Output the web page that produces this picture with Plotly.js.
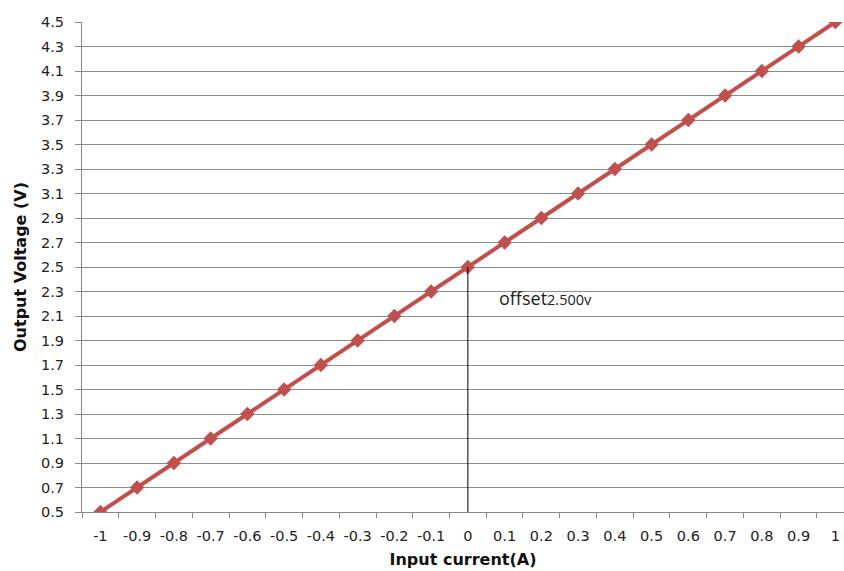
<!DOCTYPE html>
<html><head><meta charset="utf-8">
<script src="https://cdn.plot.ly/plotly-3.0.1.min.js"></script>
<style>html,body{margin:0;padding:0;background:#fff}</style>
</head><body>
<div id="chart" style="width:844px;height:571px"></div>
<script>
const currents = [-1,-0.9,-0.8,-0.7,-0.6,-0.5,-0.4,-0.3,-0.2,-0.1,0,0.1,0.2,0.3,0.4,0.5,0.6,0.7,0.8,0.9,1];
const voltages = [0.5,0.7,0.9,1.1,1.3,1.5,1.7,1.9,2.1,2.3,2.5,2.7,2.9,3.1,3.3,3.5,3.7,3.9,4.1,4.3,4.5];
const yTicks = [0.5,0.7,0.9,1.1,1.3,1.5,1.7,1.9,2.1,2.3,2.5,2.7,2.9,3.1,3.3,3.5,3.7,3.9,4.1,4.3,4.5];
const offsetCurrent = 0, offsetVoltage = 2.5;
const offsetLabel = 'offset<span style="font-size:14.5px">2.500v</span>';

const cats = currents.map(String);
const offsetIdx = cats.indexOf(String(offsetCurrent));
const font = {family: 'DejaVu Sans, Verdana, sans-serif', size: 14.5, color: '#222'};
const titleFont = {family: 'DejaVu Sans, Verdana, sans-serif', size: 16, color: '#111'};

Plotly.newPlot('chart', [{
  x: cats, y: voltages, type: 'scatter', mode: 'lines+markers',
  line: {color: '#C0504D', width: 4},
  marker: {symbol: 'diamond', size: 11, color: '#C0504D'},
  showlegend: false
}], {
  width: 844, height: 571,
  margin: {l: 82, r: 0, t: 22, b: 59},
  paper_bgcolor: '#fff', plot_bgcolor: '#fff',
  font: font,
  xaxis: {
    type: 'category', range: [-0.5, 20.235],
    tickson: 'boundaries', ticks: 'outside', ticklen: 5, tickcolor: '#888',
    ticklabelstandoff: 11, tickangle: 0,
    showgrid: false, showline: true, linecolor: '#888', linewidth: 1,
    tickfont: font, zeroline: false,
    title: {text: '<b>Input current(A)</b>', font: titleFont, standoff: 10}
  },
  yaxis: {
    range: [0.5, 4.5], tickvals: yTicks, ticktext: yTicks.map(v => v.toFixed(1)),
    ticks: 'outside', ticklen: 6, tickcolor: '#888',
    ticklabelstandoff: 8,
    showgrid: true, gridcolor: '#8c8c8c', gridwidth: 1,
    showline: true, linecolor: '#888', zeroline: false,
    tickfont: font,
    title: {text: '<b>Output Voltage (V)</b>', font: titleFont, standoff: 10}
  },
  shapes: [{
    type: 'line', xref: 'x', yref: 'y',
    x0: offsetIdx, x1: offsetIdx, y0: 0.5, y1: offsetVoltage,
    line: {color: '#000', width: 1}
  }],
  annotations: [{
    xref: 'x', yref: 'y', x: offsetIdx + 0.78, y: 2.25, xanchor: 'left', yanchor: 'middle',
    text: offsetLabel, showarrow: false,
    font: {family: 'Open Sans, Noto Sans, sans-serif', size: 18, color: '#222'}
  }]
}, {displayModeBar: false, staticPlot: true});
</script>
</body></html>
